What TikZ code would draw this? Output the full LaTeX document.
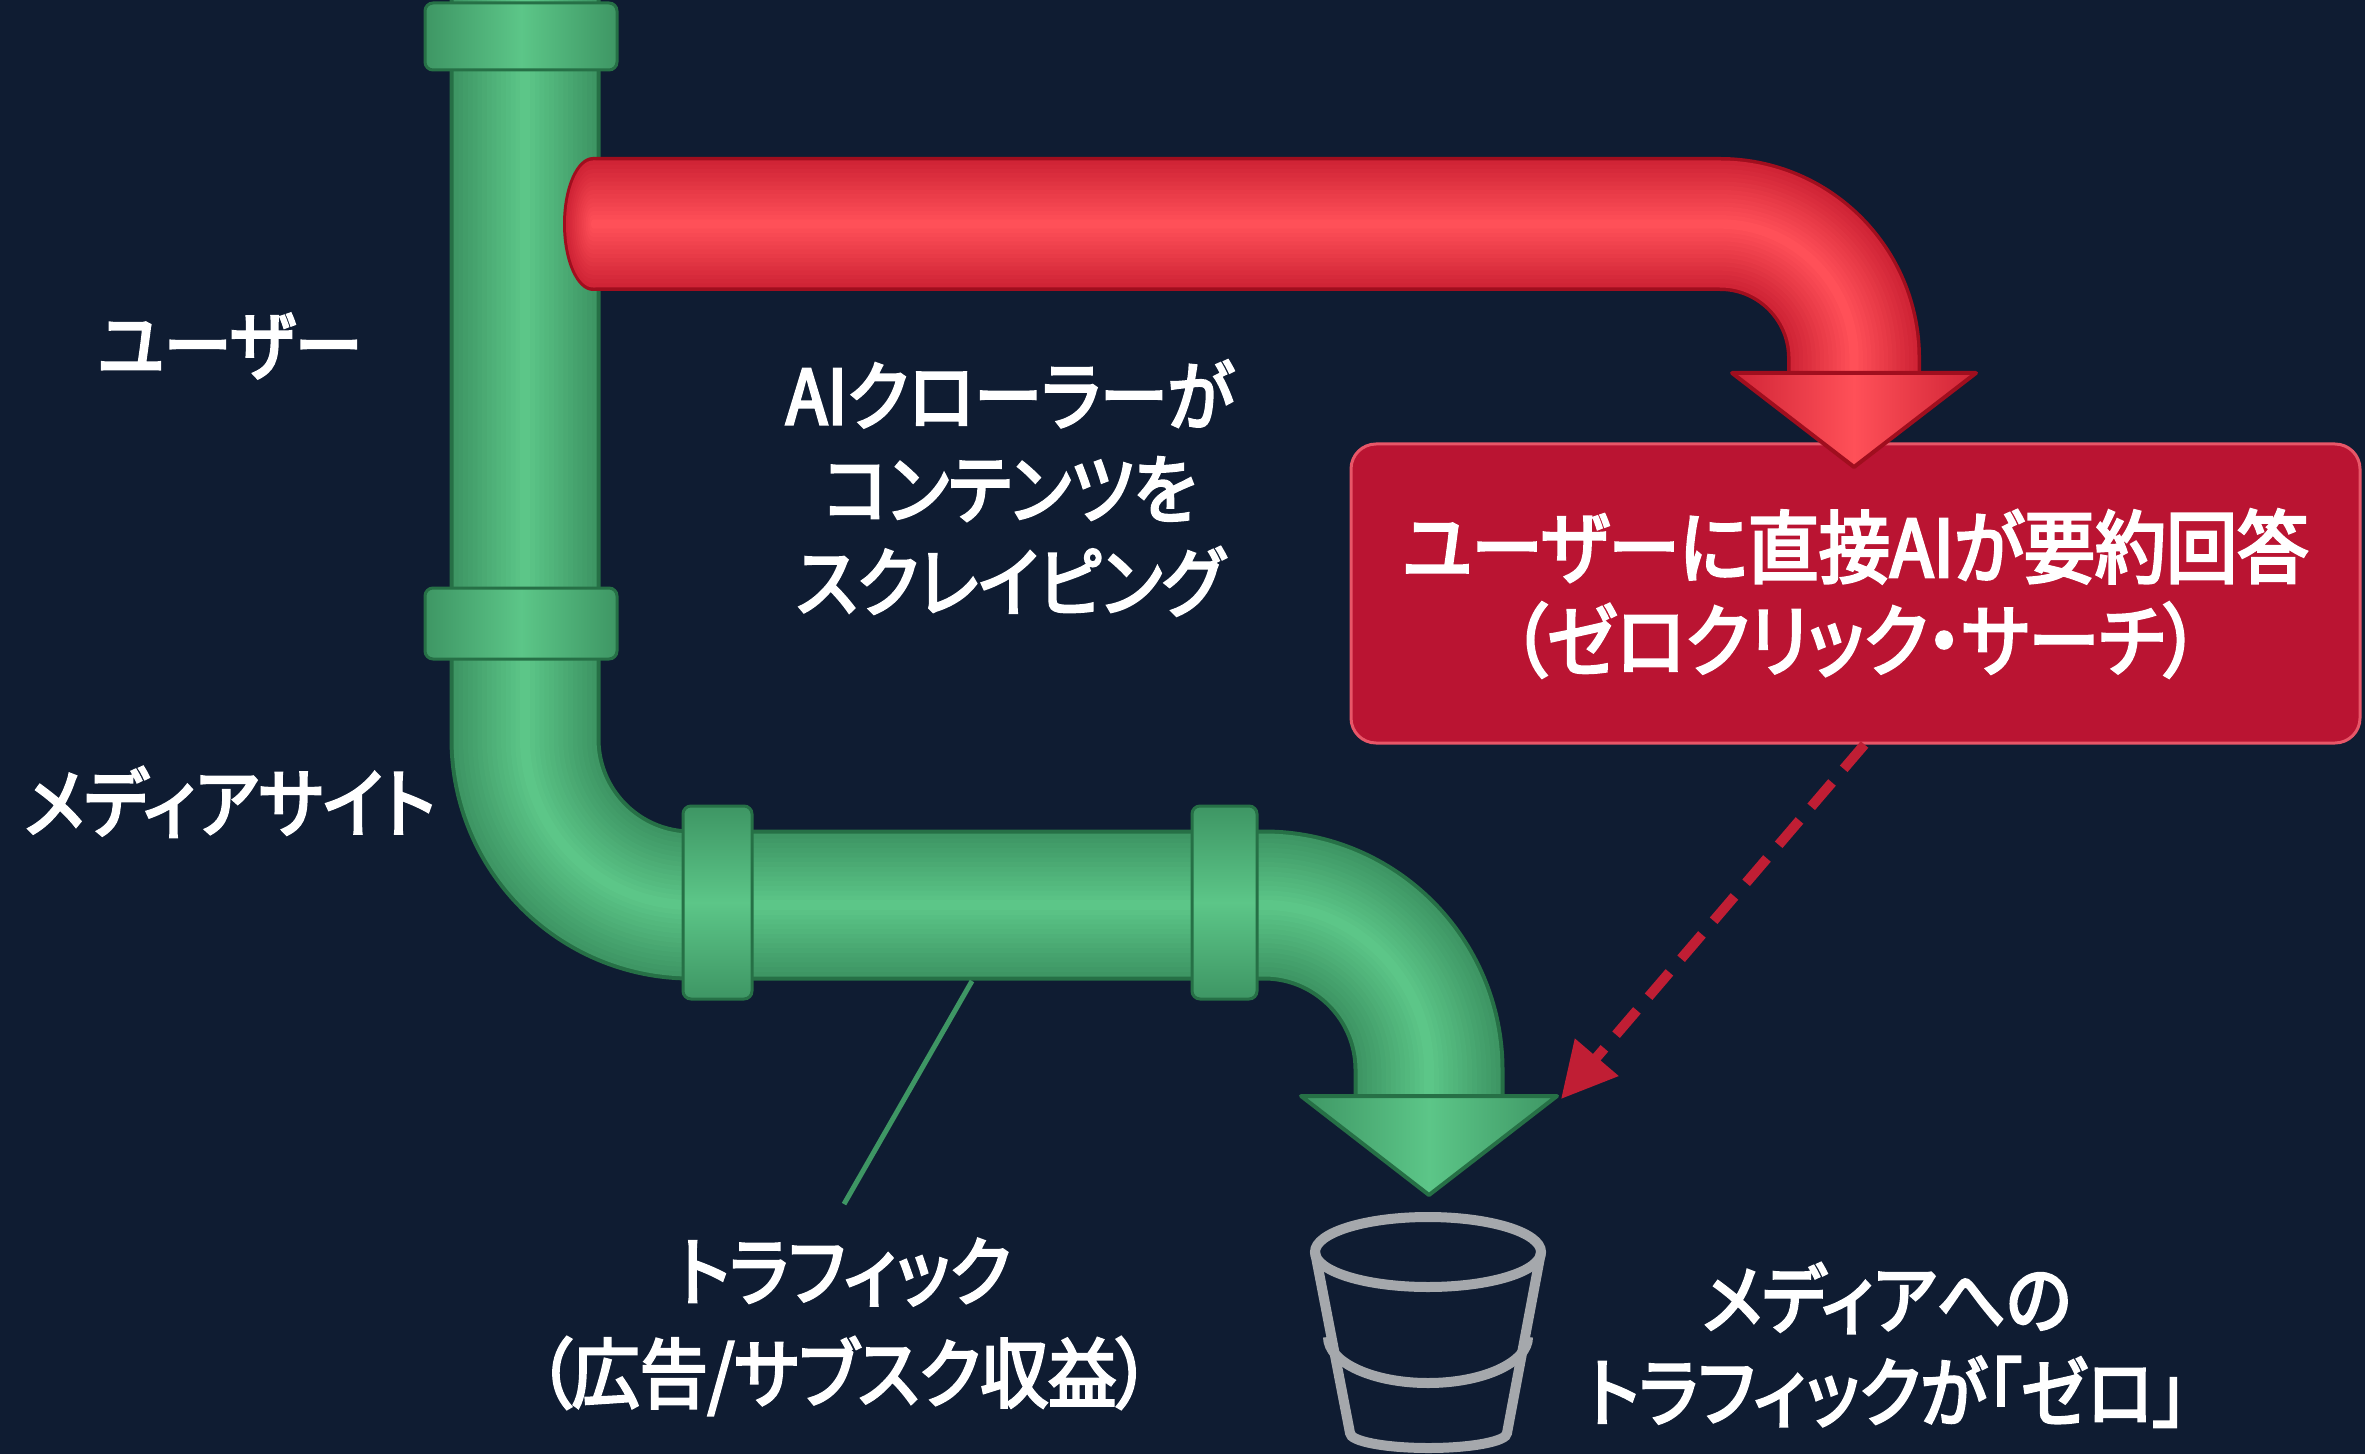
\documentclass[tikz,border=0pt]{standalone}
\usepackage{fontspec}
\newfontfamily\jpfont{Noto Sans CJK JP}[RawFeature=+palt,FakeBold=3.5,FakeStretch=0.9]
\usetikzlibrary{arrows.meta}

\definecolor{bgNavy}{RGB}{15,28,50}
\definecolor{pipeEdge}{RGB}{38,112,70}
\definecolor{pipeDark}{RGB}{62,150,100}
\definecolor{pipeLight}{RGB}{92,198,136}
\definecolor{aiEdge}{RGB}{160,14,30}
\definecolor{aiDark}{RGB}{208,36,54}
\definecolor{aiLight}{RGB}{255,80,88}
\definecolor{zeroFill}{RGB}{186,20,50}
\definecolor{zeroLine}{RGB}{232,86,104}
\definecolor{dropRed}{RGB}{192,30,52}
\definecolor{bucketGrey}{RGB}{165,168,172}

\begin{document}
\begin{tikzpicture}[
    flowTextS/.style={text=white,font=\jpfont\fontsize{21.5}{26.5}\selectfont,align=center,inner sep=0pt},
    couplingS/.style={draw=pipeEdge,line width=0.03cm,rounded corners=0.08cm},
    zeroBoxS/.style={rectangle,rounded corners=0.25cm,draw=zeroLine,line width=0.03cm,fill=zeroFill,minimum width=10.09cm,minimum height=2.99cm},
    dropArrowS/.style={dropRed,line width=0.1cm,dash pattern=on 0.32cm off 0.18cm,-{Triangle[length=0.55cm,width=0.55cm]}},
]
\useasboundingbox (0,0) rectangle (23.65,14.54);
\clip (0,0) rectangle (23.65,14.54);
\fill[bgNavy] (0,0) rectangle (23.65,14.54);

% green pipe, drawn as bands getting lighter towards the middle
\draw[pipeEdge,line width=1.51cm] (5.25,14.8) -- (5.25,7.15) arc (180:270:1.66) -- (12.64,5.49) arc (90:0:1.65) -- (14.29,3.55);
\foreach \i in {0,...,14} {
  \pgfmathsetmacro{\w}{1.43-0.095*\i}
  \pgfmathtruncatemacro{\m}{100*\i/14}
  \draw[pipeLight!\m!pipeDark,line width=\w cm] (5.25,14.8) -- (5.25,7.15) arc (180:270:1.66) -- (12.64,5.49) arc (90:0:1.65) -- (14.29,3.55);
}
% couplings
\foreach \yA/\yB in {13.84/14.51,7.95/8.66}
  \draw[couplingS,left color=pipeDark,right color=pipeDark,middle color=pipeLight] (4.25,\yA) rectangle (6.17,\yB);
\foreach \xA/\xB in {6.83/7.52,11.92/12.57}
  \draw[couplingS,top color=pipeDark,bottom color=pipeDark,middle color=pipeLight] (\xA,4.55) rectangle (\xB,6.48);
\draw[draw=pipeEdge,line width=0.04cm,line join=round,left color=pipeDark,right color=pipeDark,middle color=pipeLight]
  (13.01,3.58) -- (15.57,3.58) -- (14.29,2.59) -- cycle;

% red pipe with a rounded open end
\draw[aiEdge,line width=1.34cm] (5.93,12.30) -- (17.20,12.30) arc (90:0:1.34) -- (18.54,10.78);
\fill[aiEdge] (5.93,12.30) ellipse (0.30 and 0.67);
\foreach \i in {0,...,14} {
  \pgfmathsetmacro{\w}{1.27-0.084*\i}
  \pgfmathtruncatemacro{\m}{100*\i/14}
  \draw[aiLight!\m!aiDark,line width=\w cm] (5.93,12.30) -- (17.20,12.30) arc (90:0:1.34) -- (18.54,10.78);
  \fill[aiLight!\m!aiDark] (5.93,12.30) ellipse ({0.27*\w/1.27} and {\w/2});
}

\node[zeroBoxS,flowTextS,font=\jpfont\fontsize{22.5}{26.5}\selectfont] (flowZero) at (18.555,8.605) {ユーザーに直接AIが要約回答\\（ゼロクリック・サーチ）};
\draw[draw=aiEdge,line width=0.04cm,line join=round,left color=aiDark,right color=aiDark,middle color=aiLight]
  (17.32,10.81) -- (19.76,10.81) -- (18.54,9.87) -- cycle;

% dashed hint towards the bucket
\coordinate (dropTip) at (15.61,3.55);
\draw[dropArrowS] ([xshift=0.09cm]flowZero.south) -- (dropTip);

% empty bucket
\begin{scope}[bucketGrey,line width=0.1cm]
  \draw (14.28,2.02) ellipse (1.13 and 0.35);
  \draw (13.15,2.02) -- (13.50,0.21) arc (180:360:0.785 and 0.15) -- (15.41,2.02);
  \draw (13.28,1.17) arc (180:360:1.00 and 0.46);
\end{scope}

% labels
\node[flowTextS] (flowUser) at (2.30,11.08) {ユーザー};
\node[flowTextS] (flowMedia) at (2.30,6.52) {メディアサイト};
\node[flowTextS] (flowCrawl) at (10.10,9.66) {AIクローラーが\\コンテンツを\\スクレイピング};
\node[flowTextS,font=\jpfont\fontsize{21.5}{29}\selectfont] (flowTraffic) at (8.44,1.27) {トラフィック\\（広告/サブスク収益）};
\node[flowTextS] (flowDrop) at (18.87,1.09) {メディアへの\\トラフィックが「ゼロ」};

\coordinate (pipeTap) at (9.72,4.73);
\draw[pipeDark,line width=0.05cm] (pipeTap) -- ([yshift=0.34cm]flowTraffic.north);
\end{tikzpicture}
\end{document}
